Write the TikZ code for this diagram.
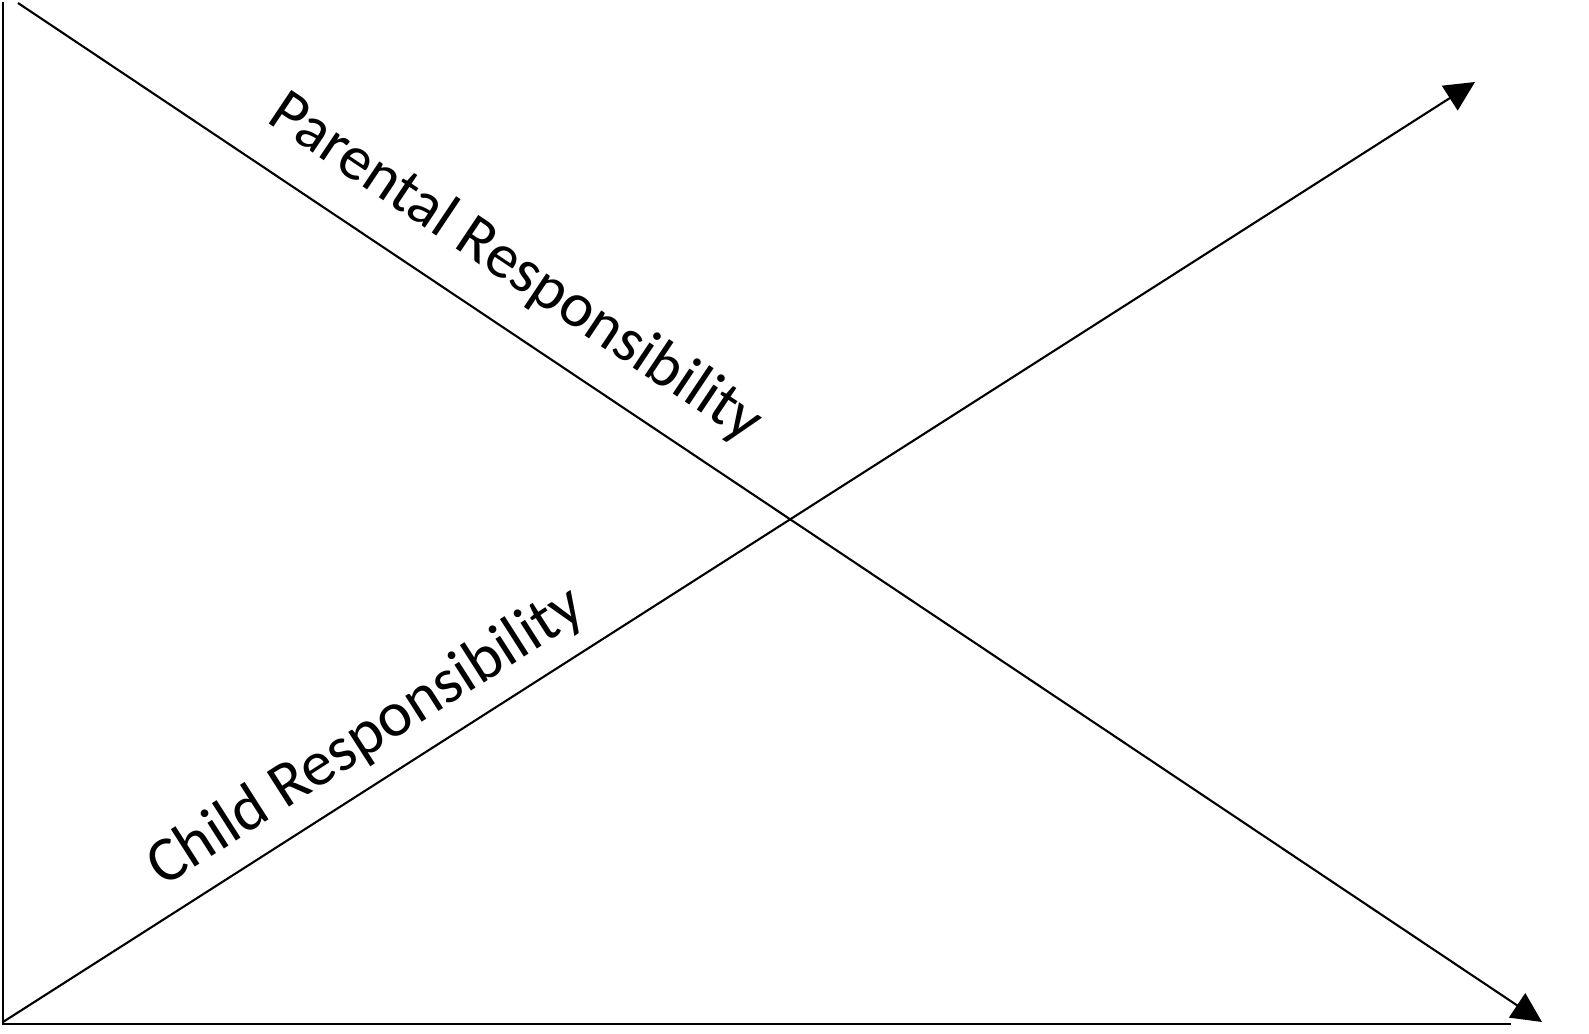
\documentclass[tikz,border=0pt]{standalone}
\usepackage{fontspec}
\setmainfont{Carlito}
\usetikzlibrary{arrows.meta}
\tikzset{
  axisline/.style={line width=2.5pt, line cap=rect},
  diagline/.style={line width=2.1pt, -{Triangle[length=30pt,width=29pt]}},
  label/.style={font=\fontsize{63}{70}\selectfont, inner sep=0pt}
}
\begin{document}
\begin{tikzpicture}[x=1pt,y=-1pt]
\useasboundingbox (0,0) rectangle (1589,1033);
\coordinate (top) at (3,3);
\coordinate (origin) at (3,1024);
\coordinate (xend) at (1510,1024);
\coordinate (pstart) at (18,3);
\coordinate (pend) at (1542,1022);
\coordinate (cstart) at (3,1022);
\coordinate (cend) at (1475,82);
\draw[axisline] (top) -- (origin) -- (xend);
\draw[diagline] (pstart) -- (pend);
\draw[diagline] (cstart) -- (cend);
\node[label, rotate=-33.8, anchor=base west] (parental) at (265,121) {Parental Responsibility};
\node[label, font=\fontsize{64}{70}\selectfont, rotate=32.6, anchor=base west] (child) at (163,888) {Child Responsibility};
\end{tikzpicture}
\end{document}
